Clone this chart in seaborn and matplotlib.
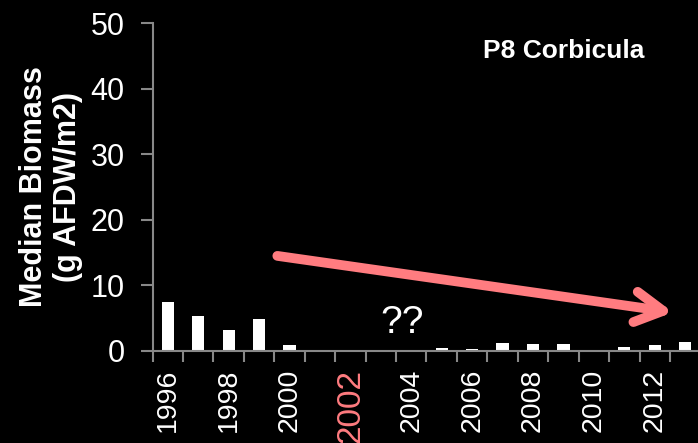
import pandas as pd
import matplotlib
matplotlib.use("Agg")
import matplotlib.pyplot as plt
import seaborn as sns

# data
years = list(range(1996, 2014))
biomass = [7.4, 5.4, 3.2, 4.9, 0.9, 0.2, 0.1, 0.0, 0.0, 0.4, 0.25, 1.2, 1.1, 1.05, 0.0, 0.55, 0.95, 1.4]
label_years = [str(y) if y % 2 == 0 else "" for y in years]
y_ticks = [0, 10, 20, 30, 40, 50]

accent = "#ff7c80"
grey = "#888888"

sns.set_style("dark")
plt.rcParams["font.family"] = ["Liberation Sans", "DejaVu Sans"]

df = pd.DataFrame({"Year": [str(y) for y in years], "Biomass": biomass})

fig = plt.figure(figsize=(6.98, 4.43), dpi=100, facecolor="black")
ax = fig.add_axes([0.2185, 0.2077, 0.785, 0.7403])
ax.set_facecolor("black")

sns.barplot(data=df, x="Year", y="Biomass", color="white", width=0.4,
            saturation=1, ax=ax, edgecolor="none")

ax.set_ylim(0, 50)
ax.set_xlim(-0.5, len(years) - 0.5)
ax.set_yticks(y_ticks)
ax.set_yticklabels([str(v) for v in y_ticks], color="white", fontsize=22)
ax.tick_params(axis="y", direction="out", length=9, width=1.5, color=grey, pad=11, left=True)

# labels at the bar centres, ticks between categories
ax.set_xticks(range(len(years)))
ax.set_xticklabels(label_years, rotation=90, color="white", fontsize=20.5)
ax.tick_params(axis="x", which="major", length=0, pad=13, bottom=True)
ax.set_xticks([i - 0.5 for i in range(len(years) + 1)], minor=True)
ax.tick_params(axis="x", which="minor", direction="out", length=8, width=1.5, color=grey, bottom=True)
for lab in ax.get_xticklabels():
    if lab.get_text() == "2002":
        lab.set_color(accent)
        lab.set_fontsize(24)

for side in ["top", "right"]:
    ax.spines[side].set_visible(False)
for side in ["left", "bottom"]:
    ax.spines[side].set_visible(True)
    ax.spines[side].set_color(grey)
    ax.spines[side].set_linewidth(1.5)
ax.grid(False)

ax.set_xlabel("")
ax.set_ylabel("Median Biomass\n(g AFDW/m2)", color="white", fontsize=22,
              fontweight="bold", linespacing=1.15)
ax.yaxis.set_label_coords(-0.127, 0.5)

ax.text(0.75, 0.915, "P8 Corbicula", transform=ax.transAxes, color="white",
        fontsize=19, fontweight="bold", ha="center", va="center")
ax.text(7.71, 4.3, "??", color="white", fontsize=28, ha="center", va="center")

ax.annotate("", xy=(16.6, 5.9), xytext=(3.6, 14.5),
            arrowprops=dict(arrowstyle="->,head_length=2.0,head_width=1.1",
                            color=accent, lw=7, capstyle="round",
                            shrinkA=0, shrinkB=0))

fig.savefig("out.png", dpi=100, facecolor="black")
